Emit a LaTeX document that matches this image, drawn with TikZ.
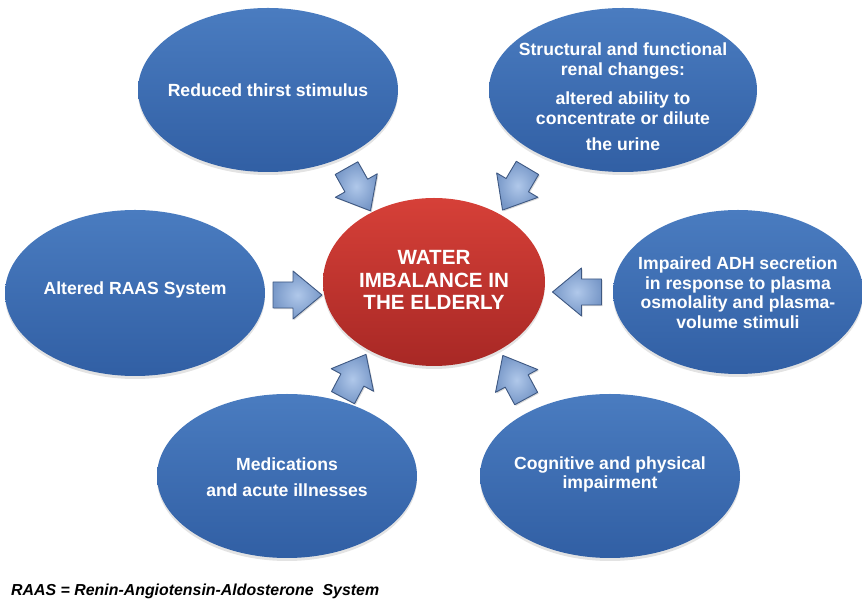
\documentclass[tikz,border=0pt]{standalone}
\usepackage{fontspec}
\setmainfont{Liberation Sans}
\usetikzlibrary{shapes.geometric,shadows}

\definecolor{bubbletop}{RGB}{74,124,192}
\definecolor{bubblebot}{RGB}{49,95,164}
\definecolor{coretop}{RGB}{214,64,56}
\definecolor{corebot}{RGB}{168,40,37}
\definecolor{arrowin}{RGB}{176,200,234}
\definecolor{arrowout}{RGB}{120,152,200}
\definecolor{arrowedge}{RGB}{62,88,130}

\tikzset{
  bubble/.style={ellipse, draw=none, inner sep=0pt,
    top color=bubbletop, bottom color=bubblebot,
    drop shadow={shadow xshift=0pt, shadow yshift=-3pt, opacity=0.22}},
  corebubble/.style={bubble, top color=coretop, bottom color=corebot},
  caption/.style={text=white, align=center, inner sep=0pt,
    font={\fontsize{17.6}{19.5}\selectfont\bfseries}},
  corecaption/.style={caption, font={\fontsize{20.6}{22.5}\selectfont\bfseries}},
  arrowbody/.style={draw=arrowedge, line width=0.9pt, line join=round,
    inner color=arrowin, outer color=arrowout,
    drop shadow={shadow xshift=1.2pt, shadow yshift=-1.2pt, opacity=0.3}},
  pics/blockarrow/.style={code={
    \path[arrowbody] (-24.5,-13) -- (-4.5,-13) -- (-4.5,-24) -- (24.5,0)
      -- (-4.5,24) -- (-4.5,13) -- (-24.5,13) -- cycle;
  }}
}

\begin{document}
\begin{tikzpicture}[x=1pt,y=1pt]
\useasboundingbox (0,0) rectangle (862,602);

% the central problem
\node[corebubble, minimum width=222pt, minimum height=168pt] (core) at (434,320) {};
\node[corecaption] (coretext) at (434,322) {WATER\\IMBALANCE IN\\THE ELDERLY};

% contributing factors
\node[bubble, minimum width=260pt, minimum height=164pt] (thirst) at (268,512) {};
\node[caption] (thirsttext) at (268,512) {Reduced thirst stimulus};

\node[bubble, minimum width=268pt, minimum height=164pt] (renal) at (623,512) {};
\node[caption] (renaltext) at (623,505) {Structural and functional\\renal changes:\\[10pt]altered ability to\\concentrate or dilute\\[7pt]the urine};

\node[bubble, minimum width=260pt, minimum height=166pt] (raas) at (135,309) {};
\node[caption] (raastext) at (135,312) {Altered RAAS System};

\node[bubble, minimum width=250pt, minimum height=164pt] (adh) at (738,310) {};
\node[caption] (adhtext) at (738,309.5) {Impaired ADH secretion\\in response to plasma\\osmolality and plasma-\\volume stimuli};

\node[bubble, minimum width=260pt, minimum height=164pt] (meds) at (287,126) {};
\node[caption] (medstext) at (287,125) {Medications\\[7pt]and acute illnesses};

\node[bubble, minimum width=260pt, minimum height=164pt] (cog) at (610,126) {};
\node[caption] (cogtext) at (610,127.5) {Cognitive and physical\\impairment};

% block arrows pointing at the central problem
\pic[rotate=-60.7] (arthirst) at (358.5,412.5) {blockarrow};
\pic[rotate=-120.6] (arrenal) at (515,413) {blockarrow};
\pic (arraas) at (297.5,307) {blockarrow};
\pic[rotate=180] (aradh) at (577,310) {blockarrow};
\pic[rotate=62] (armeds) at (354.5,226) {blockarrow};
\pic[rotate=118.4] (arcog) at (514.5,225) {blockarrow};

% abbreviation note
\node[anchor=west, inner sep=0pt, font={\fontsize{15.9}{18}\selectfont\bfseries\itshape}] (note)
  at (11,11) {RAAS = Renin-Angiotensin-Aldosterone\ \ System};
\end{tikzpicture}
\end{document}
